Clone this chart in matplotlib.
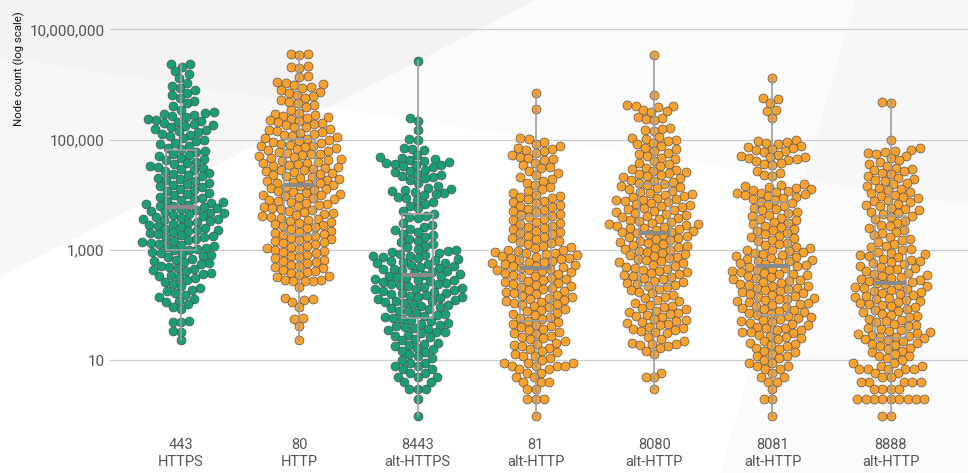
import numpy as np
import matplotlib
matplotlib.use("Agg")
import matplotlib.pyplot as plt
from matplotlib.patches import Polygon
from matplotlib.ticker import FixedLocator, NullLocator

plt.rcParams["font.family"] = ["Roboto", "DejaVu Sans"]

# ---------------------------------------------------------------- data
ports = ["443", "80", "8443", "81", "8080", "8081", "8888"]
protocols = ["HTTPS", "HTTP", "alt-HTTPS", "alt-HTTP", "alt-HTTP", "alt-HTTP", "alt-HTTP"]

nodes_443 = [
    2350000, 2310000, 2080000, 1740000, 1520000, 1290000, 1080000,
    955000, 870000, 790000, 712000, 640000, 575000, 510000, 455000, 400000, 350000,
    312000, 299000, 287000, 275000, 263000, 252000, 241000, 230000, 220000, 210000, 200000, 191000,
    182000, 174000, 166000, 158000, 150000, 143000, 136000, 129000, 122000, 115000,
    105000, 99000, 93000, 87500, 82000, 77000, 72000, 67500,
    63000, 59500, 56000, 53000, 50000, 47000, 44500, 42000, 39500, 37500, 35500, 33500, 32000,
    31000, 29500, 28000, 26500, 25200, 24000, 22800, 21600, 20500, 19500, 18500, 17600, 16700,
    15900, 15100, 14300, 13600, 12900, 12300, 11600, 11000, 10400,
    9800, 9300, 8900, 8500, 8100, 7800, 7500, 7200, 6900, 6600, 6400, 6150,
    5950, 5750, 5550, 5350, 5150, 4950, 4750, 4600, 4450, 4300, 4150, 4000, 3850, 3700, 3580, 3460,
    3340, 3220,
    3110, 2990, 2870, 2760, 2650, 2550, 2450, 2350, 2260, 2170, 2090, 2010, 1930, 1850, 1780, 1710,
    1640, 1580, 1520, 1460, 1400, 1350, 1290, 1240, 1190, 1150, 1100, 1060, 1020,
    980, 933, 889, 847, 807, 768, 732, 697, 664, 632, 602, 573, 546, 520, 495, 472, 449, 428, 408,
    388, 370, 352, 336, 320,
    305, 282, 261, 242, 224, 207, 192, 178, 165, 152, 141, 131, 121, 112, 104,
    92, 86, 51, 50, 49, 34, 33, 23,
]

nodes_80 = [
    3600000, 3540000, 3470000, 2150000, 2080000, 2010000, 1400000, 1350000, 1090000, 1060000, 1020000,
    960000, 900000, 850000, 790000, 740000, 700000, 650000, 610000, 570000, 530000, 490000, 460000,
    420000, 390000, 350000,
    310000, 297000, 284000, 271000, 259000, 248000, 237000, 227000, 217000, 207000, 198000, 190000,
    181000, 173000, 166000, 159000, 152000, 145000, 139000, 133000, 127000, 121000, 116000, 111000,
    106000, 102000,
    97500, 94000, 90500, 87200, 84000, 81000, 78000, 75200, 72400, 69800, 67200, 64800, 62400, 60100,
    57900, 55800, 53800, 51800, 49900, 48100, 46300, 44600, 43000, 41400, 39900, 38500, 37100, 35700,
    34400, 33200, 32000,
    31000, 29800, 28700, 27600, 26600, 25600, 24600, 23700, 22800, 21900, 21100, 20300, 19500, 18800,
    18100, 17400, 16700, 16100, 15500, 14900, 14300, 13800, 13300, 12800, 12300, 11800, 11400, 10900,
    10500, 10100,
    9750, 9360, 8980, 8610, 8270, 7930, 7610, 7300, 7010, 6720, 6450, 6190, 5940, 5700, 5470, 5250,
    5040, 4840, 4640, 4450, 4270, 4100, 3940, 3780, 3620, 3480, 3340, 3200,
    3080, 2950, 2820, 2690, 2580, 2460, 2360, 2250, 2150, 2060, 1970, 1880, 1800, 1720, 1650, 1570,
    1510, 1440, 1380, 1320, 1260, 1200, 1150, 1100, 1060, 1010,
    970, 920, 873, 828, 786, 745, 707, 671, 636, 604, 573, 543, 515, 489, 464, 440, 417, 396, 376,
    356, 338, 320,
    290, 284, 279, 275, 270, 210, 137, 130, 124, 112,
    94, 58, 56, 42, 23,
]

nodes_8443 = [
    2650000,
    245000, 219000, 148000, 104000, 99000,
    72000, 68000, 65000, 52000, 49000, 47000, 45000, 43000, 41000, 39500, 38000, 36500, 35000, 34000,
    33000, 32000,
    28500, 27000, 25500, 24000, 23000, 22000, 21000, 20000, 18500, 16500, 14500, 13500, 12900, 12300,
    11800, 11300, 10800, 10400, 10050,
    9300, 8700, 8100, 7500, 6900, 6300, 5700, 5000, 4400, 4200, 4000, 3800,
    3050, 2840, 2640, 2450, 2280, 2120, 1970, 1840, 1710, 1590, 1480, 1370, 1280, 1190, 1110, 1030,
    985, 950, 916, 883, 852, 822, 792, 764, 737, 711, 685, 661, 637, 615, 593, 572, 551, 532, 513,
    494, 477, 460, 443, 428, 412, 398, 383, 370, 356, 344, 331, 320,
    310, 300, 290, 280, 271, 262, 253, 245, 237, 229, 221, 214, 207, 200, 193, 187, 181, 175, 169,
    163, 158, 153, 148, 143, 138, 133, 129, 125, 121, 117, 113, 109, 105, 101,
    97, 93, 88, 84, 80, 77, 73, 70, 67, 64, 61, 58, 56, 53, 51, 48, 46, 44, 42, 40, 38, 37, 35, 33, 32,
    31, 29, 28, 26, 24, 23, 21, 20, 19, 18, 17, 16, 15, 14, 13, 12, 11, 10,
    9, 9, 8, 8, 7, 7, 6, 6, 5, 5, 5, 4, 4,
    3, 3, 3, 2, 1,
]

nodes_81 = [
    690000, 363000, 105000, 102000,
    92000, 84000, 76000, 72000, 69000, 66000, 63000, 58000, 52000, 49000, 47000, 45000, 42000, 38000,
    35000, 32500,
    30000, 27500, 25000, 23000, 21000, 19500, 18000, 16500, 15000, 13800, 12700, 11700, 10800, 10100,
    9700, 9190, 8700, 8240, 7810, 7400, 7010, 6640, 6290, 5960, 5640, 5340, 5060, 4800, 4540, 4300,
    4100, 3900, 3700, 3500, 3250,
    3080, 2920, 2770, 2630, 2500, 2370, 2250, 2130, 2020, 1920, 1820, 1730, 1640, 1550, 1470, 1400,
    1330, 1260, 1190, 1130, 1070, 1020,
    990, 957, 925, 894, 865, 836, 808, 781, 755, 730, 706, 682, 660, 638, 616, 596, 576, 557, 538,
    520, 503, 486, 470,
    455, 440, 425, 410, 395, 380, 365, 350, 337, 322,
    310, 297, 285, 274, 262, 252, 241, 232, 222, 213, 205, 196, 188, 181, 173, 166, 160, 153, 147,
    141, 135, 130, 125, 120, 115, 110, 105, 101,
    96, 91, 86, 81, 77, 73, 69, 65, 61, 58, 55, 52,
    49, 46, 44, 42, 40, 37, 35, 33,
    31, 30, 28, 27, 25, 24, 22, 21, 20, 19, 18, 17, 16, 15, 14, 13, 12, 12, 11, 10,
    9, 9, 9, 8, 8, 8, 8, 7, 7, 6, 6, 5, 5, 4, 4, 4,
    3, 3, 2, 2, 2, 1,
]

nodes_8080 = [
    3470000,
    640000, 430000, 415000, 400000, 385000, 345000, 330000, 320000,
    255000, 245000, 238000, 230000, 165000, 158000, 152000, 145000, 112000, 106000, 101000, 98000,
    94000, 88000, 82000, 76000, 71000, 66500, 62000, 58000, 54000, 50500, 47000, 44000, 41000, 38000,
    35500, 33000,
    31000, 29600, 28300, 27100, 25900, 24800, 23700, 22600, 21600, 20700, 19800, 18900, 18100, 17300,
    16500,
    15800, 15000, 14300, 13700, 13100, 12500, 11900, 11400, 10900, 10400, 10000,
    9650, 9270, 8900, 8550, 8210, 7890, 7580, 7280, 6990, 6710, 6450, 6190, 5950, 5710, 5490, 5270,
    5060, 4860, 4670, 4490, 4310, 4140, 3970, 3820, 3670, 3520, 3380, 3250,
    3120, 3020, 2920, 2820, 2720, 2630, 2550, 2460, 2380, 2300, 2220, 2150, 2080,
    2010, 1930, 1850, 1780, 1710, 1640, 1580, 1510, 1450, 1400, 1340, 1290, 1240, 1190, 1140, 1100,
    1050, 1010,
    970, 928, 888, 849, 812, 777, 743, 711, 680, 651, 622, 595, 570, 545, 521, 499, 477, 456, 436,
    417, 399, 382, 365, 349, 334, 320,
    305, 292, 279, 267, 255, 244, 233, 223,
    213, 199, 186, 174, 163, 153, 143, 133, 125, 117, 109, 102,
    97, 92, 88, 84, 80, 76, 73, 69, 66, 63, 60, 57, 54, 52, 49, 47, 45, 43, 41, 39, 37, 35, 34, 32,
    31, 27, 24, 22, 21, 20, 20, 19, 18, 17, 15, 13,
    6, 5, 5, 3,
]

nodes_8081 = [
    1320000,
    560000, 535000, 455000, 350000, 325000, 245000,
    98000, 94000, 91000, 88000, 85000, 76000, 73000, 70000, 68000, 66000, 63000, 60000, 53000, 51000,
    49000, 47500, 46000, 44500, 43000, 41000, 37000, 35500, 34000,
    27000, 25000, 23000, 21500, 15500, 15000, 14400, 13900, 13300, 12800, 12300, 11800, 11400, 11000,
    10600, 10300, 10000,
    9700, 9300, 8900, 8500, 8000, 7500, 7000, 6600, 6220, 5860, 5530, 5210, 4910, 4630, 4370, 4120,
    3880, 3660, 3450, 3250,
    3080, 2910, 2740, 2590, 2440, 2300, 2170, 2050, 1930, 1820, 1720, 1620, 1530, 1440, 1360, 1280,
    1210, 1140, 1080, 1020,
    985, 948, 912, 877, 844, 812, 781, 751, 723, 695, 669, 643, 619, 595, 573, 551, 530, 510, 491,
    472, 454, 437, 420, 404, 389, 374, 360, 346, 333, 320,
    308, 296, 285, 274, 264, 254, 244, 235, 226, 218, 209, 201, 194, 187, 180, 173, 166, 160, 154,
    148, 142, 137, 132, 127, 122, 117, 113, 109, 105, 101,
    97, 93, 89, 85, 82, 78, 75, 72, 69, 66, 63, 60, 58, 55, 53, 51, 49, 47, 45, 43, 41, 39, 38, 36,
    35, 33, 32,
    31, 29, 28, 26, 25, 24, 22, 21, 20, 19, 18, 17, 16, 15, 14, 13, 12, 12, 11, 10,
    9, 9, 8, 8, 7, 7, 6, 5, 5, 4, 4,
    3, 2, 2, 1,
]

nodes_8888 = [
    490000, 460000, 100000,
    70000, 66000, 63000, 60000, 57000, 54000, 50000, 47000, 43000, 40000, 36000, 33000,
    31000, 29500, 28000, 26500, 25000, 23500, 22000, 20500, 19500, 18500, 17500, 16500, 15500, 14500,
    13500, 12800, 12000, 11300, 10700, 10100,
    9600, 9080, 8590, 8120, 7680, 7270, 6870, 6500, 6150, 5810, 5500, 5200, 4920, 4650, 4400,
    4150, 3900, 3650, 3400,
    3100, 2880, 2680, 2490, 2310, 2150, 2000, 1850, 1720, 1600, 1490, 1380, 1280, 1190, 1110, 1030,
    980, 933, 889, 847, 807, 768, 732, 697, 664, 632, 602, 573, 546, 520, 495, 472, 449, 428, 408,
    388, 370, 352, 336, 320,
    308, 296, 285, 274, 263, 253,
    243, 233, 223, 214, 205, 197, 189, 181, 174, 167, 160, 153, 147, 141, 135, 129, 124, 119, 114,
    109, 105, 101,
    96, 91, 86, 82, 78, 74, 70, 67, 63, 60, 57, 54, 51, 49, 46, 44, 42, 39, 37, 36, 34, 32,
    31, 30, 29, 28, 27, 26,
    25, 24, 23, 22, 21, 20, 19, 18, 17, 16, 15, 14, 13, 12, 12, 11, 10,
    9, 9, 8, 8, 7, 7, 7, 7, 7, 6, 6, 5, 5, 4, 4, 4, 4, 4,
    3, 3, 3, 3, 2, 2, 2, 2, 2, 2, 2, 2, 2, 1, 1,
]

series = [nodes_443, nodes_80, nodes_8443, nodes_81, nodes_8080, nodes_8081, nodes_8888]

y_ticks = [10, 1000, 100000, 10000000]
y_tick_labels = ["10", "1,000", "100,000", "10,000,000"]

protocol_colors = {"HTTPS": "#1b9e77", "HTTP": "#f7a12f"}

# ---------------------------------------------------------------- figure
W, H = 968, 473
fig = plt.figure(figsize=(W / 100, H / 100), dpi=100)
fig.patch.set_facecolor("white")

# faint decorative backdrop
bg = fig.add_axes([0, 0, 1, 1], zorder=0)
bg.set_xlim(0, W)
bg.set_ylim(H, 0)
bg.axis("off")
shade = dict(facecolor="black", edgecolor="none")
bg.add_patch(Polygon([(0, 0), (536, 0), (0, 277)], alpha=0.03, **shade))
bg.add_patch(Polygon([(0, 0), (W, 0), (W, 205), (0, 57)], alpha=0.016, **shade))
bg.add_patch(Polygon([(855, 0), (W, 0), (W, H), (720, H)], alpha=0.014, **shade))

ax_left, ax_right, ax_top, ax_bottom = 110, W, 0, 425
ax = fig.add_axes([ax_left / W, (H - ax_bottom) / H,
                   (ax_right - ax_left) / W, (ax_bottom - ax_top) / H], zorder=1)
ax.patch.set_alpha(0)
ax.set_yscale("log")
ax.set_xlim(-0.600, 6.653)
ax.set_ylim(10 ** -0.172, 10 ** 7.531)

for s in ax.spines.values():
    s.set_visible(False)

ax.yaxis.set_major_locator(FixedLocator(y_ticks))
ax.yaxis.set_minor_locator(NullLocator())
ax.set_yticklabels(y_tick_labels)
ax.grid(axis="y", color="#cccccc", linewidth=0.9)
ax.set_axisbelow(True)
ax.tick_params(axis="y", length=0, pad=4, labelsize=11, labelcolor="#555555")

positions = np.arange(len(ports))
ax.set_xticks(positions)
ax.set_xticklabels([f"{p}\n{q}" for p, q in zip(ports, protocols)],
                   linespacing=1.3)
ax.tick_params(axis="x", length=0, pad=9, labelsize=10.5, labelcolor="#555555")

# box plots (whiskers run to the extremes), drawn over the swarms
box_color = "#9e9e9e"
ax.boxplot(series, positions=positions, widths=0.26, whis=(0, 100),
           showfliers=False, showcaps=False, manage_ticks=False,
           boxprops=dict(color=box_color, linewidth=1.2),
           whiskerprops=dict(color=box_color, linewidth=1.2),
           medianprops=dict(color="#8a8a8a", linewidth=2.9, solid_capstyle="butt"),
           zorder=4)


def beeswarm(ypix, dist):
    """Horizontal offsets (pixels) keeping point centres >= dist apart,
    placing points from the top down, each as close to the axis as possible."""
    order = np.argsort(ypix, kind="stable")
    xs = np.zeros(len(ypix))
    px, py = [], []
    for i in order:
        y = ypix[i]
        x = 0.0
        if px:
            PX = np.asarray(px)
            DY = np.asarray(py) - y
            near = np.abs(DY) < dist
            NX, NDY = PX[near], DY[near]
            if NX.size:
                off = np.sqrt(dist * dist - NDY ** 2)
                cands = np.concatenate([[0.0], NX - off, NX + off])
                cands = cands[np.argsort(np.abs(cands), kind="stable")]
                for c in cands:
                    if np.all((NX - c) ** 2 + NDY ** 2 >= dist * dist - 1e-6):
                        x = c
                        break
        xs[i] = x
        px.append(x)
        py.append(y)
    return xs


x_px_per_unit = ax.transData.transform((1, 1))[0] - ax.transData.transform((0, 1))[0]
dot_px = 9.0
for k, (vals, proto) in enumerate(zip(series, protocols)):
    vals = np.asarray(vals, dtype=float)
    n = len(vals)
    ypix = ax.transData.transform(np.column_stack([np.full(n, k), vals]))[:, 1]
    dx = beeswarm(ypix, 8.4)
    color = protocol_colors["HTTPS" if proto.endswith("HTTPS") else "HTTP"]
    ax.scatter(k + dx / x_px_per_unit, vals, s=(dot_px * 0.72) ** 2,
               facecolor=color, edgecolor="#4a4a4a", linewidth=0.45, zorder=3)

fig.text(19 / W, (H - 69) / H, "Node count (log scale)", rotation=90,
         ha="center", va="center", fontsize=8.2, color="#111111")

fig.savefig("out.png", dpi=100, facecolor="white")
